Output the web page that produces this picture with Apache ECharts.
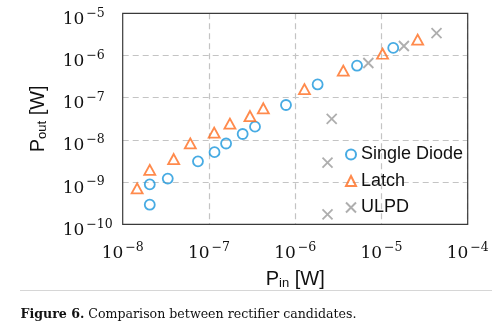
<!DOCTYPE html>
<html>
<head>
<meta charset="utf-8">
<script src="https://cdn.jsdelivr.net/npm/echarts@6/dist/echarts.min.js"></script>
<style>
  html, body { margin: 0; padding: 0; background: #fff; }
  #chart { width: 492px; height: 326px; }
</style>
</head>
<body>
<div id="chart"></div>
<script>
// Input / output power (W) per rectifier type
const singleDiodeIn  = [2.06e-8, 2.06e-8, 3.33e-8, 7.46e-8, 1.16e-7, 1.58e-7, 2.46e-7, 3.42e-7, 7.82e-7, 1.82e-6, 5.21e-6, 1.37e-5];
const singleDiodeOut = [2.91e-10, 8.87e-10, 1.21e-9, 3.11e-9, 5.12e-9, 8.22e-9, 1.38e-8, 2.06e-8, 6.71e-8, 2.06e-7, 5.73e-7, 1.51e-6];

const latchIn  = [1.47e-8, 2.06e-8, 3.90e-8, 6.08e-8, 1.15e-7, 1.75e-7, 2.99e-7, 4.27e-7, 1.28e-6, 3.61e-6, 1.03e-5, 2.63e-5];
const latchOut = [7.13e-10, 1.94e-9, 3.52e-9, 8.30e-9, 1.48e-8, 2.42e-8, 3.68e-8, 5.61e-8, 1.59e-7, 4.36e-7, 1.10e-6, 2.37e-6];

const ulpdIn  = [2.37e-6, 2.37e-6, 2.65e-6, 7.05e-6, 1.82e-5, 4.35e-5];
const ulpdOut = [1.71e-10, 2.88e-9, 3.13e-8, 6.64e-7, 1.68e-6, 3.41e-6];

// Decade exponents shown on each axis
const xTickExponents = [-8, -7, -6, -5, -4];
const yTickExponents = [-10, -9, -8, -7, -6, -5];

const seriesNames = ['Single Diode', 'Latch', 'ULPD'];

const pairs = (xs, ys) => xs.map((x, i) => [x, ys[i]]);

const BLUE = '#1996dc';
const ORANGE = '#ff6d1f';
const GRAY = '#9a9a9a';
const CROSS = 'path://M0,0L10,10M10,0L0,10';

// Plot box (pixels)
const GRID = { left: 122.7, right: 24.3, top: 13.3, bottom: 101.7 };
const W = 492, H = 326;

const powerLabel = v => {
  const e = Math.round(Math.log10(v));
  return '{b|10}{s|\u2212' + Math.abs(e) + '}';
};
const tickRich = {
  b: { fontFamily: 'DejaVu Serif', fontSize: 17, lineHeight: 21, color: '#111', verticalAlign: 'bottom' },
  s: { fontFamily: 'DejaVu Serif', fontSize: 12.5, lineHeight: 12, color: '#111', verticalAlign: 'top', padding: [0, 0, 0, 2] }
};
const nameRich = {
  p: { fontFamily: 'Liberation Sans', fontSize: 20, lineHeight: 20, color: '#111', verticalAlign: 'top', padding: [0, 0, 3, 0] },
  s: { fontFamily: 'Liberation Sans', fontSize: 13, lineHeight: 13, color: '#111', verticalAlign: 'bottom' }
};
const gridLine = {
  show: true, showMinLine: false, showMaxLine: false,
  lineStyle: { color: '#c4c4c4', width: 1.2, type: [6, 4] }
};

const chart = echarts.init(document.getElementById('chart'), null, { renderer: 'canvas' });

chart.setOption({
  animation: false,
  backgroundColor: '#fff',
  grid: { left: GRID.left, right: GRID.right, top: GRID.top, bottom: GRID.bottom },
  xAxis: {
    type: 'log', logBase: 10,
    min: Math.pow(10, xTickExponents[0]),
    max: Math.pow(10, xTickExponents[xTickExponents.length - 1]),
    axisLine: { show: false }, axisTick: { show: false },
    splitLine: gridLine,
    axisLabel: { formatter: powerLabel, rich: tickRich, margin: 17, showMinLabel: true, showMaxLabel: true },
    name: '{p|P}{s|in}{p| [W]}',
    nameLocation: 'middle', nameGap: 45.5,
    nameTextStyle: { rich: nameRich }
  },
  yAxis: {
    type: 'log', logBase: 10,
    min: Math.pow(10, yTickExponents[0]),
    max: Math.pow(10, yTickExponents[yTickExponents.length - 1]),
    axisLine: { show: false }, axisTick: { show: false },
    splitLine: gridLine,
    axisLabel: { formatter: powerLabel, rich: tickRich, margin: 60, align: 'left', padding: [8, 0, 0, 0], showMinLabel: true, showMaxLabel: true },
    name: '{p|P}{s|out}{p| [W]}',
    nameLocation: 'middle', nameGap: 74,
    nameTextStyle: { rich: nameRich }
  },
  legend: {
    orient: 'vertical',
    left: 340, top: 140.5,
    itemWidth: 10, itemHeight: 10, itemGap: 8.5,
    textStyle: { fontFamily: 'Liberation Sans', fontSize: 18, color: '#111' },
    data: seriesNames
  },
  series: [
    {
      name: seriesNames[0], type: 'scatter',
      data: pairs(singleDiodeIn, singleDiodeOut),
      symbol: 'circle', symbolSize: 10,
      itemStyle: { color: 'rgba(255,255,255,0)', borderColor: BLUE, borderWidth: 1.8 }
    },
    {
      name: seriesNames[1], type: 'scatter',
      data: pairs(latchIn, latchOut),
      symbol: 'triangle', symbolSize: [11, 10],
      itemStyle: { color: 'rgba(255,255,255,0)', borderColor: ORANGE, borderWidth: 1.8 }
    },
    {
      name: seriesNames[2], type: 'scatter',
      data: pairs(ulpdIn, ulpdOut),
      symbol: CROSS, symbolSize: 10,
      itemStyle: { color: 'rgba(255,255,255,0)', borderColor: GRAY, borderWidth: 1.8 }
    }
  ],
  graphic: [
    {
      // solid frame around the plot box, drawn above the dashed grid
      type: 'rect', z: 100, silent: true,
      shape: { x: GRID.left, y: GRID.top, width: W - GRID.left - GRID.right, height: H - GRID.top - GRID.bottom },
      style: { fill: 'none', stroke: '#3a3a3a', lineWidth: 1.2 }
    },
    {
      type: 'line',
      shape: { x1: 20, y1: 290.5, x2: 492, y2: 290.5 },
      style: { stroke: '#d6d6d6', lineWidth: 1 }
    },
    {
      type: 'text', left: 20.5, top: 308.5,
      style: {
        text: '{b|Figure 6.} Comparison between rectifier candidates.',
        fontFamily: 'DejaVu Serif', fontSize: 12.6, fill: '#111',
        rich: { b: { fontFamily: 'DejaVu Serif', fontSize: 12.6, fontWeight: 'bold', fill: '#111' } }
      }
    }
  ]
});
</script>
</body>
</html>
